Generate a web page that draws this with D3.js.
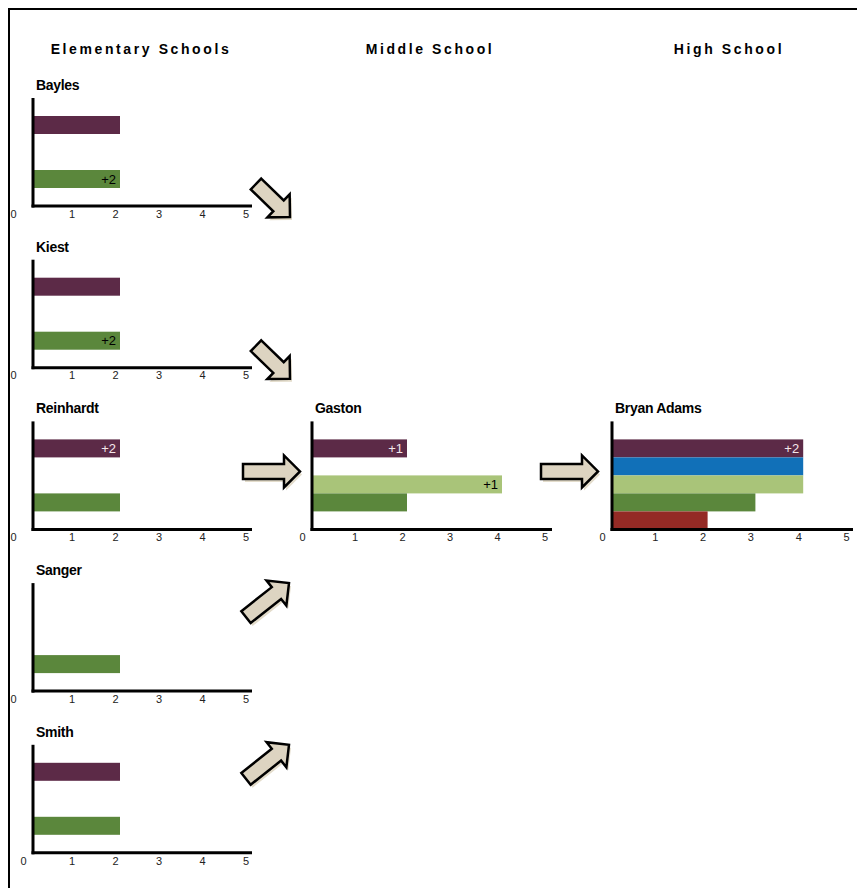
<!DOCTYPE html>
<html>
<head>
<meta charset="utf-8">
<script src="https://cdn.jsdelivr.net/npm/d3@7"></script>
<style>
  body { margin: 0; background: #fff; }
  svg text { font-family: "Liberation Sans", Arial, sans-serif; }
</style>
</head>
<body>
<div id="chart"></div>
<script>
// series order, top to bottom in every panel
var series = ["s1", "s2", "s3", "s4", "s5"];
var seriesColors = ["#5c2a47", "#1170b8", "#a9c479", "#5b873c", "#942a25"];
var tickValues = [0, 1, 2, 3, 4, 5];
var columnTitles = ["Elementary Schools", "Middle School", "High School"];

var elementary = ["Bayles", "Kiest", "Reinhardt", "Sanger", "Smith"];
var elementaryValues = [
  [2, null, null, 2, null],
  [2, null, null, 2, null],
  [2, null, null, 2, null],
  [null, null, null, 2, null],
  [2, null, null, 2, null]
];
var elementaryNotes = [
  [null, null, null, "+2", null],
  [null, null, null, "+2", null],
  ["+2", null, null, null, null],
  [null, null, null, null, null],
  [null, null, null, null, null]
];

var middle = ["Gaston"];
var middleValues = [[2, null, 4, 2, null]];
var middleNotes = [["+1", null, "+1", null, null]];

var high = ["Bryan Adams"];
var highValues = [[4, 4, 4, 3, 2]];
var highNotes = [["+2", null, null, null, null]];

var svgWidth = 857, svgHeight = 888;

var svg = d3.select("#chart")
  .append("svg")
  .attr("width", svgWidth)
  .attr("height", svgHeight);

// frame
svg.append("path")
  .attr("d", "M9,888 V9 H857")
  .attr("fill", "none")
  .attr("stroke", "#000")
  .attr("stroke-width", 2);

// column headings
var colCenters = [141, 430, 729];
svg.selectAll(".colTitle")
  .data(columnTitles)
  .enter()
  .append("text")
  .attr("class", "colTitle")
  .attr("x", (d, i) => colCenters[i])
  .attr("y", 54)
  .attr("text-anchor", "middle")
  .attr("font-size", "14px")
  .attr("font-weight", "bold")
  .attr("letter-spacing", "2.6px")
  .text(d => d);

function drawPanel(name, values, notes, x0, x5, lineEnd, base, zeroShift) {
  var g = svg.append("g");

  var x = d3.scaleLinear().domain([0, 5]).range([x0, x5]);
  var y = d3.scaleBand().domain(series).range([base - 90, base]);

  var rows = series.map((s, i) => ({key: s, value: values[i], note: notes[i], color: seriesColors[i]}))
    .filter(d => d.value != null);

  g.selectAll("rect")
    .data(rows)
    .enter()
    .append("rect")
    .attr("x", x(0))
    .attr("y", d => y(d.key))
    .attr("width", d => x(d.value) - x(0))
    .attr("height", y.bandwidth())
    .attr("fill", d => d.color);

  g.selectAll(".note")
    .data(rows.filter(d => d.note))
    .enter()
    .append("text")
    .attr("class", "note")
    .attr("x", d => x(d.value) - 4)
    .attr("y", d => y(d.key) + y.bandwidth() / 2)
    .attr("dy", "0.36em")
    .attr("text-anchor", "end")
    .attr("font-size", "13px")
    .attr("fill", d => d.key == "s1" ? "#f4e6ea" : "#000")
    .text(d => d.note);

  // axis lines
  g.append("line")
    .attr("x1", x0).attr("x2", x0)
    .attr("y1", base - 108).attr("y2", base + 1.5)
    .attr("stroke", "#000").attr("stroke-width", 3);
  g.append("line")
    .attr("x1", x0 - 1.5).attr("x2", lineEnd)
    .attr("y1", base).attr("y2", base)
    .attr("stroke", "#000").attr("stroke-width", 3);

  var xAxis = d3.axisBottom(x)
    .tickValues(tickValues)
    .tickFormat(d3.format("d"))
    .tickSize(0)
    .tickPadding(4);
  var ax = g.append("g")
    .attr("transform", `translate(0, ${base})`)
    .call(xAxis);
  ax.select(".domain").remove();
  ax.selectAll("text")
    .attr("font-size", "11px")
    .attr("font-family", "Liberation Sans, Arial, sans-serif")
    .attr("fill", "#222")
    .attr("dx", d => d == 0 ? zeroShift : -5);

  g.append("text")
    .attr("x", x0 + 3)
    .attr("y", base - 116)
    .attr("font-size", "14px")
    .attr("font-weight", "bold")
    .attr("letter-spacing", "-0.3px")
    .text(name);
}

var elemBase = elementary.map((d, i) => 206 + i * 161.7);

elementary.forEach(function(name, i) {
  drawPanel(name, elementaryValues[i], elementaryNotes[i], 33, 250.5, 252, elemBase[i], i < 4 ? -20 : -10);
});
drawPanel(middle[0], middleValues[0], middleNotes[0], 312, 549.5, 552, elemBase[2], -10);
drawPanel(high[0], highValues[0], highNotes[0], 612, 851, 853, elemBase[2], -10);

// block arrows
function arrowPath(L) {
  var bw = 7.5, hl = 16, hh = 16;
  return `M0,${-bw} L${L - hl},${-bw} L${L - hl},${-hh} L${L},0 L${L - hl},${hh} L${L - hl},${bw} L0,${bw} Z`;
}

function drawArrow(tx, ty, px, py) {
  var L = Math.hypot(px - tx, py - ty);
  var ang = Math.atan2(py - ty, px - tx) * 180 / Math.PI;
  var a = svg.append("g")
    .attr("transform", `translate(${tx},${ty}) rotate(${ang})`);
  a.append("path")
    .attr("d", arrowPath(L))
    .attr("transform", `rotate(${-ang}) translate(2,3) rotate(${ang})`)
    .attr("fill", "#e3dccb");
  a.append("path")
    .attr("d", arrowPath(L))
    .attr("fill", "#ddd4c1")
    .attr("stroke", "#000")
    .attr("stroke-width", 2.5)
    .attr("stroke-linejoin", "miter");
}

drawArrow(256, elemBase[0] - 22, 290, elemBase[0] + 11);
drawArrow(256, elemBase[1] - 22, 290, elemBase[1] + 11);
drawArrow(243, elemBase[2] - 58, 300, elemBase[2] - 58);
drawArrow(541, elemBase[2] - 58, 598, elemBase[2] - 58);
drawArrow(246, elemBase[3] - 74, 289, elemBase[3] - 108);
drawArrow(246, elemBase[4] - 74, 289, elemBase[4] - 108);
</script>
</body>
</html>
